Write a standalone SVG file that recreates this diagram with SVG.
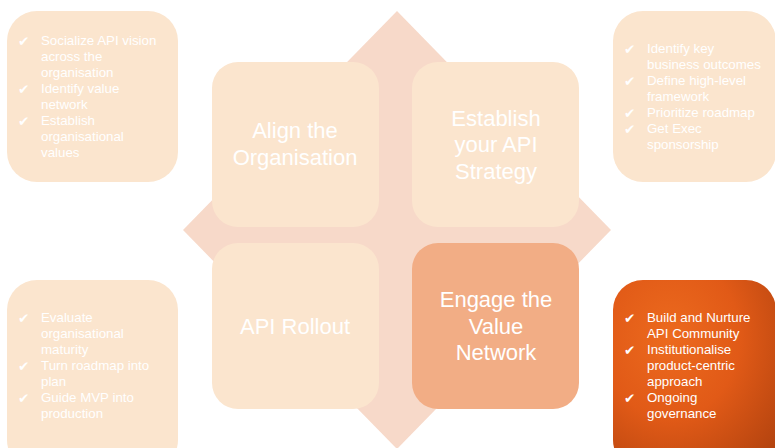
<svg xmlns="http://www.w3.org/2000/svg" width="775" height="448" viewBox="0 0 775 448">
<style>
.light{fill:#FBE5CE}
.big{font-family:"Liberation Sans",Arial,sans-serif;font-size:22px;fill:#FFFFFF;text-anchor:middle}
.small{font-family:"Liberation Sans",Arial,sans-serif;font-size:13.3px;fill:#FFFFFF}
.chk{font-family:"DejaVu Sans",sans-serif;font-size:13.5px;fill:#FFFFFF}
</style>
<defs>
<radialGradient id="og" cx="0.35" cy="0.3" r="0.85">
<stop offset="0" stop-color="#EC6A1E"/>
<stop offset="0.5" stop-color="#E15A17"/>
<stop offset="1" stop-color="#B5440F"/>
</radialGradient>
</defs>
<g id="diamond"><polygon points="397,11 611,230 397,449 183,230" fill="#F7D9C9"/></g>
<g id="align"><rect class="light" x="212" y="62" width="167" height="165" rx="26"/>
<text class="big" x="295" y="138">Align the</text><text class="big" x="295" y="165">Organisation</text></g>
<g id="strategy"><rect class="light" x="412" y="62" width="167" height="165" rx="26"/>
<text class="big" x="496" y="126">Establish</text><text class="big" x="496" y="152">your API</text><text class="big" x="496" y="179">Strategy</text></g>
<g id="rollout"><rect class="light" x="212" y="243" width="167" height="166" rx="26"/>
<text class="big" x="295" y="334">API Rollout</text></g>
<g id="engage"><rect x="412" y="243" width="167" height="166" rx="26" fill="#F2AD85"/>
<text class="big" x="496" y="307">Engage the</text><text class="big" x="496" y="334">Value</text><text class="big" x="496" y="360">Network</text></g>
<g id="box-tl"><rect class="light" x="7" y="11" width="171" height="171" rx="30"/>
<text class="chk" x="18" y="46">✔</text><text class="small" x="41" y="45">Socialize API vision</text>
<text class="small" x="41" y="61">across the</text><text class="small" x="41" y="77">organisation</text>
<text class="chk" x="18" y="94">✔</text><text class="small" x="41" y="93">Identify value</text>
<text class="small" x="41" y="109">network</text>
<text class="chk" x="18" y="126">✔</text><text class="small" x="41" y="125">Establish</text>
<text class="small" x="41" y="141">organisational</text><text class="small" x="41" y="157">values</text></g>
<g id="box-tr"><rect class="light" x="613" y="11" width="163" height="171" rx="30"/>
<text class="chk" x="624" y="54">✔</text><text class="small" x="647" y="53">Identify key</text>
<text class="small" x="647" y="69">business outcomes</text>
<text class="chk" x="624" y="86">✔</text><text class="small" x="647" y="85">Define high-level</text>
<text class="small" x="647" y="101">framework</text>
<text class="chk" x="624" y="118">✔</text><text class="small" x="647" y="117">Prioritize roadmap</text>
<text class="chk" x="624" y="134">✔</text><text class="small" x="647" y="133">Get Exec</text>
<text class="small" x="647" y="149">sponsorship</text></g>
<g id="box-bl"><rect class="light" x="7" y="280" width="171" height="190" rx="30"/>
<text class="chk" x="18" y="323">✔</text><text class="small" x="41" y="322">Evaluate</text>
<text class="small" x="41" y="338">organisational</text><text class="small" x="41" y="354">maturity</text>
<text class="chk" x="18" y="371">✔</text><text class="small" x="41" y="370">Turn roadmap into</text>
<text class="small" x="41" y="386">plan</text>
<text class="chk" x="18" y="403">✔</text><text class="small" x="41" y="402">Guide MVP into</text>
<text class="small" x="41" y="418">production</text></g>
<g id="box-br"><rect x="613" y="280" width="163" height="190" rx="30" fill="url(#og)"/>
<text class="chk" x="624" y="323">✔</text><text class="small" x="647" y="322">Build and Nurture</text>
<text class="small" x="647" y="338">API Community</text>
<text class="chk" x="624" y="355">✔</text><text class="small" x="647" y="354">Institutionalise</text>
<text class="small" x="647" y="370">product-centric</text><text class="small" x="647" y="386">approach</text>
<text class="chk" x="624" y="403">✔</text><text class="small" x="647" y="402">Ongoing</text>
<text class="small" x="647" y="418">governance</text></g>
<g id="connectors"/>
</svg>
